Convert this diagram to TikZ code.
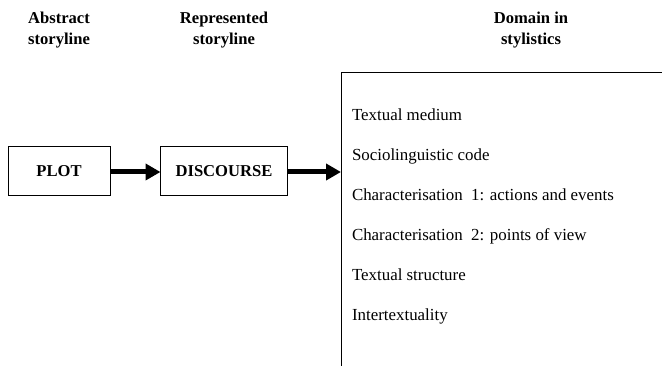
\documentclass[tikz,border=0pt]{standalone}
\usepackage{fontspec}
\setmainfont{Liberation Serif}
\usetikzlibrary{arrows.meta}
\begin{document}
\begin{tikzpicture}[x=1pt,y=-1pt,
  every node/.style={inner sep=0pt,outer sep=0pt,font=\fontsize{16.9}{18}\selectfont},
  header/.style={align=center,font=\fontsize{16.6}{21.5}\selectfont\bfseries},
  stagebox/.style={draw,line width=0.9pt,minimum height=49pt,font=\fontsize{16.6}{18}\selectfont\bfseries},
  item/.style={anchor=base west},
  flow/.style={line width=5pt,-{Triangle[length=15pt,width=16pt]}}]
\useasboundingbox (0,0) rectangle (662,366);
\fill[white] (0,0) rectangle (662,366);
% headers
\node[header] (h1) at (59,30) {Abstract\\storyline};
\node[header] (h2) at (224,30) {Represented\\storyline};
\node[header] (h3) at (531,30) {Domain in\\stylistics};
% boxes
\node[stagebox,minimum width=102pt] (plot) at (59,171.3) {PLOT};
\node[stagebox,minimum width=127pt] (disc) at (224,171.3) {DISCOURSE};
% domain box (cut off by the picture edge)
\coordinate (dtl) at (341,72.3);
\coordinate (dtr) at (670,72.3);
\coordinate (dbl) at (341,372);
\draw[line width=0.9pt] (dtr) -- (dtl) -- (dbl);
\coordinate (din) at (341,172);
% arrows
\draw[flow] (plot.east |- 0,172) -- (disc.west |- 0,172);
\draw[flow] (disc.east |- 0,172) -- (din);
% items
\node[item] (i1) at (352,121) {Textual medium};
\node[item] (i2) at (352,161) {Sociolinguistic code};
\node[item] (i3) at (352,201) {Characterisation\ \ 1: actions and events};
\node[item] (i4) at (352,241) {Characterisation\ \ 2: points of view};
\node[item] (i5) at (352,281) {Textual structure};
\node[item] (i6) at (352,321) {Intertextuality};
\end{tikzpicture}
\end{document}
